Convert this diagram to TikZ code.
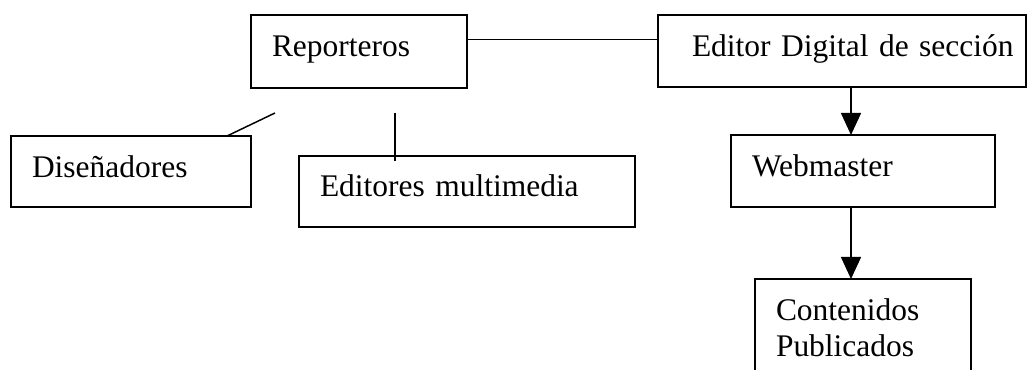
\documentclass[tikz,border=0pt]{standalone}
\usepackage{fontspec}
\setmainfont{Liberation Serif}
\usetikzlibrary{arrows.meta}
\begin{document}
\begin{tikzpicture}[x=0.75pt,y=-0.75pt,
  line width=1.1pt,
  box/.style={draw, rectangle, anchor=north west, outer sep=0pt,
    inner xsep=15.75pt, inner ysep=0pt, align=left,
    text height=31.1pt,
    font=\fontsize{23.6pt}{27pt}\selectfont},
  arr/.style={-{Triangle[length=16.5pt,width=15pt]}}]
\clip (0,0) rectangle (1029,370);
\fill[white] (0,0) rectangle (1029,370);
\node[box, text width=130.5pt, text depth=23.6pt] (rep) at (251,15) {Reporteros};
\node[box, text width=244.6pt, text depth=22.9pt] (edd) at (658,15) {\hspace*{9.75pt}\mbox{Editor Digital de sección}};
\node[box, text width=148.5pt, text depth=22.1pt] (dis) at (11,136) {Diseñadores};
\node[box, text width=220.5pt, text depth=22.9pt, text height=30.4pt] (edm) at (299,156) {Editores multimedia};
\node[box, text width=166.5pt, text depth=22.9pt] (web) at (731,135) {Webmaster};
\node[box, text width=130.5pt, text depth=51.4pt] (con) at (755,279) {Contenidos\\Publicados};
\coordinate (dtop) at (275,113);
\coordinate (etop) at (395,113);
\draw ([shift={(0,24.5)}]rep.north east) -- ([shift={(0,24.5)}]edd.north west);
\draw ([shift={(216,0)}]dis.north west) -- (dtop);
\draw (etop) -- ([shift={(96,5)}]edm.north west);
\draw[arr] ([shift={(193,0)}]edd.south west) -- ([shift={(120,0)}]web.north west);
\draw[arr] ([shift={(120,0)}]web.south west) -- ([shift={(96,0)}]con.north west);
\end{tikzpicture}
\end{document}
